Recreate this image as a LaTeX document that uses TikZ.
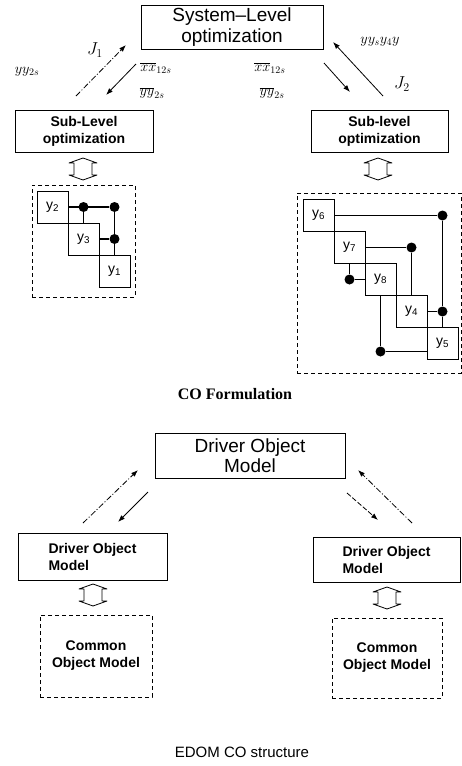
\documentclass[tikz,border=0pt]{standalone}
\usepackage{fontspec}
\setmainfont{Liberation Sans}
\newfontfamily\capserif{Liberation Serif}
\usetikzlibrary{arrows.meta,positioning,calc}

\begin{document}
\begin{tikzpicture}[
  x=1pt,y=-1pt,
  >={Latex[length=7pt,width=5pt]},
  lvlbox/.style={draw,line width=0.9pt,align=center,inner sep=0pt},
  blk/.style={draw,line width=0.9pt,minimum width=31pt,minimum height=32pt,inner sep=0pt,outer sep=0pt,font=\fontsize{14}{16}\selectfont},
  jdot/.style={circle,fill,inner sep=0pt,minimum size=10pt},
  link/.style={line width=1.3pt},
  grp/.style={draw,line width=0.9pt,dash pattern=on 4pt off 3pt,align=center,inner sep=0pt},
  flow/.style={->,line width=0.8pt},
  dd/.style={dash pattern=on 6pt off 2pt on 1pt off 2pt},
  xchg/.style={draw,line width=0.8pt,line join=round},
  lbl/.style={font=\fontsize{14}{16}\selectfont,inner sep=0pt}
]
  \useasboundingbox (0,0) rectangle (462,766);

  % CO formulation
  \node[lvlbox,minimum width=182pt,minimum height=44pt,font=\fontsize{19}{21}\selectfont] (sys) at (232,27) {System–Level\\optimization};
  \node[lvlbox,minimum width=138pt,minimum height=42pt,font=\bfseries\fontsize{14}{17}\selectfont] (sub1) at (84,131) {Sub-Level\\optimization};
  \node[lvlbox,minimum width=137pt,minimum height=42pt,font=\bfseries\fontsize{14}{17}\selectfont] (sub2) at (379.5,131) {Sub-level\\optimization};

  \coordinate (j1a) at (76,96);  \coordinate (j1b) at (126,45);
  \coordinate (t1a) at (136,64); \coordinate (t1b) at (106,95);
  \coordinate (t2a) at (324,63); \coordinate (t2b) at (350,92);
  \coordinate (j2a) at (383,96); \coordinate (j2b) at (333,42);
  \draw[flow,dd] (j1a) -- (j1b);
  \draw[flow] (t1a) -- (t1b);
  \draw[flow] (t2a) -- (t2b);
  \draw[flow] (j2a) -- (j2b);

  \node[lbl,font=\fontsize{17}{18}\selectfont] (lj1) at (95,50) {$J_1$};
  \node[lbl,font=\fontsize{17}{18}\selectfont] (lj2) at (402,84) {$J_2$};
  \node[lbl] (ly1) at (27,72) {$yy_{2s}$};
  \node[lbl] (lx1) at (156,68) {$\overline{xx}_{12s}$};
  \node[lbl] (lyb1) at (152,93) {$\overline{yy}_{2s}$};
  \node[lbl] (lx2) at (270,68) {$\overline{xx}_{12s}$};
  \node[lbl] (lyb2) at (272,93) {$\overline{yy}_{2s}$};
  \node[lbl] (ly2) at (380,42) {$yy_{s}y_{4}y$};

  \coordinate (sw1) at (83,169);
  \coordinate (sw2) at (378,169);
  \foreach \s in {sw1,sw2}
    \draw[xchg,shift={(\s)}] (0,-11) -- (14,-6) -- (9,-6) -- (9,6) -- (14,6) -- (0,11)
      -- (-14,6) -- (-9,6) -- (-9,-6) -- (-14,-6) -- cycle;

  \node[grp,minimum width=103pt,minimum height=112pt] (g1) at (83.5,241) {};
  \node[blk] (y2) at (52.5,207) {y\textsubscript{2}};
  \node[blk,below right=0pt of y2] (y3) {y\textsubscript{3}};
  \node[blk,below right=0pt of y3] (y1) {y\textsubscript{1}};
  \node[jdot] (d1) at (y3 |- y2) {};
  \node[jdot] (d2) at (y1 |- y2) {};
  \node[jdot] (d3) at (y1 |- y3) {};
  \draw[link] (y2) -- (d2) -- (d3) -- (y1);
  \draw[link] (d1) -- (y3);
  \draw[link] (y3) -- (d3);

  \node[grp,minimum width=164pt,minimum height=180pt] (g2) at (379,283) {};
  \node[blk] (y6) at (318.5,215.5) {y\textsubscript{6}};
  \node[blk,below right=0pt of y6] (y7) {y\textsubscript{7}};
  \node[blk,below right=0pt of y7] (y8) {y\textsubscript{8}};
  \node[blk,below right=0pt of y8] (y4) {y\textsubscript{4}};
  \node[blk,below right=0pt of y4] (y5) {y\textsubscript{5}};
  \node[jdot] (da) at (y5 |- y6) {};
  \node[jdot] (db) at (y4 |- y7) {};
  \node[jdot] (dc) at (y7 |- y8) {};
  \node[jdot] (de) at (y5 |- y4) {};
  \node[jdot] (df) at ($(y8 |- y5)+(0,8)$) {};
  \draw[link] (y6) -- (da) -- (de) -- (y5);
  \draw[link] (y7) -- (db) -- (y4);
  \draw[link] (y7) -- (dc) -- (y8);
  \draw[link] (y4) -- (de);
  \draw[link] (y8) -- (df) -- (df -| y5.west);

  \node[font=\capserif\bfseries\fontsize{16}{18}\selectfont] (cap1) at (235,394) {CO Formulation};

  % EDOM CO structure
  \node[lvlbox,minimum width=190pt,minimum height=45pt,font=\fontsize{19}{20}\selectfont] (dom) at (250,455.5) {Driver Object\\Model};
  \node[lvlbox,minimum width=149pt,minimum height=47pt,align=left,font=\bfseries\fontsize{14}{17}\selectfont] (dom1) at (92.5,556.5) {Driver Object\\Model};
  \node[lvlbox,minimum width=147pt,minimum height=45pt,align=left,font=\bfseries\fontsize{14}{17}\selectfont] (dom2) at (386.5,559.5) {Driver Object\\Model};

  \coordinate (b1a) at (83,523);  \coordinate (b1b) at (138,470);
  \coordinate (b2a) at (148,492); \coordinate (b2b) at (118,522);
  \coordinate (b3a) at (347,493); \coordinate (b3b) at (378,520);
  \coordinate (b4a) at (412,523); \coordinate (b4b) at (358,470);
  \draw[flow,dd] (b1a) -- (b1b);
  \draw[flow] (b2a) -- (b2b);
  \draw[flow,dash pattern=on 5pt off 2pt] (b3a) -- (b3b);
  \draw[flow,dd] (b4a) -- (b4b);

  \coordinate (sw3) at (93,595);
  \coordinate (sw4) at (387,598);
  \foreach \s in {sw3,sw4}
    \draw[xchg,shift={(\s)}] (0,-11) -- (14,-6) -- (9,-6) -- (9,6) -- (14,6) -- (0,11)
      -- (-14,6) -- (-9,6) -- (-9,-6) -- (-14,-6) -- cycle;

  \node[grp,minimum width=112pt,minimum height=82pt,font=\bfseries\fontsize{14}{17}\selectfont] (com1) at (96,656) {Common\\Object Model};
  \node[grp,minimum width=110pt,minimum height=80pt,font=\bfseries\fontsize{14}{17}\selectfont] (com2) at (387,658) {Common\\Object Model};

  \node[font=\fontsize{15}{17}\selectfont] (cap2) at (242,752) {EDOM CO structure};
\end{tikzpicture}
\end{document}
